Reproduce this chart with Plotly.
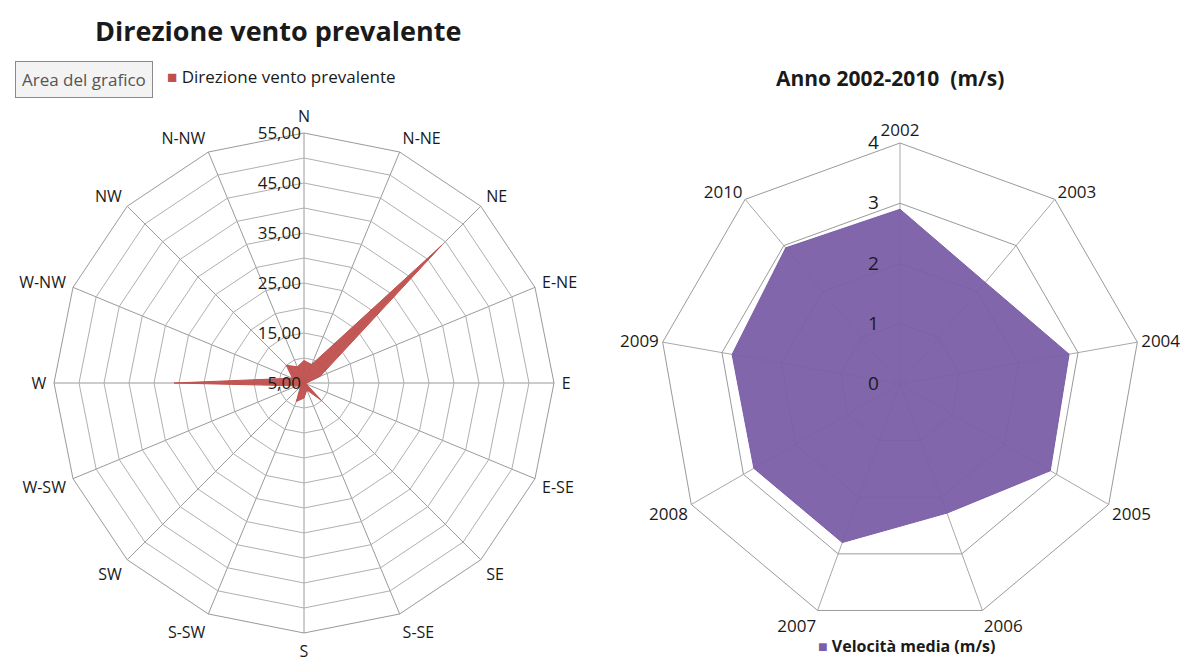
import plotly.graph_objects as go

# ---- Left chart data: prevailing wind direction ----
directions = ["N", "N-NE", "NE", "E-NE", "E", "E-SE", "SE", "S-SE",
              "S", "S-SW", "SW", "W-SW", "W", "W-NW", "NW", "N-NW"]
wind_values = [9.5, 9.0, 44.0, 8.5, 5.5, 5.5, 10.0, 6.5,
               8.0, 9.0, 6.0, 6.5, 31.0, 7.5, 10.0, 8.5]
wind_ticks = [5, 10, 15, 20, 25, 30, 35, 40, 45, 50, 55]
wind_ticktext = ["5,00", "", "15,00", "", "25,00", "", "35,00", "", "45,00", "", "55,00"]

# ---- Right chart data: mean speed per year ----
years = ["2002", "2003", "2004", "2005", "2006", "2007", "2008", "2009", "2010"]
speed_values = [2.9, 2.2, 2.85, 2.88, 2.28, 2.8, 2.8, 2.83, 2.95]
speed_ticks = [0, 1, 2, 3, 4]

FONT = "Open Sans"
GRID = "#9a9a9a"
TXT = "#1a1a1a"
RED = "#c0504d"
PURPLE = "#7b5ea7"

W, H = 1193, 661

fig = go.Figure()

fig.add_trace(go.Scatterpolar(
    r=wind_values + wind_values[:1], theta=directions + directions[:1],
    mode="lines", fill="toself",
    fillcolor="rgba(192,80,77,0.95)", line=dict(color=RED, width=1),
    name="Direzione vento prevalente", subplot="polar", showlegend=False,
))

fig.add_trace(go.Scatterpolar(
    r=speed_values + speed_values[:1], theta=years + years[:1],
    mode="lines", fill="toself",
    fillcolor="rgba(123,94,167,0.95)", line=dict(color=PURPLE, width=1),
    name="Velocità media (m/s)", subplot="polar2", showlegend=False,
))

fig.update_layout(
    width=W, height=H,
    margin=dict(l=0, r=0, t=0, b=0),
    paper_bgcolor="white",
    showlegend=False,
    font=dict(family=FONT, color=TXT),
    polar=dict(
        domain=dict(x=[54/W, 554/W], y=[28/H, 528/H]),
        gridshape="linear", bgcolor="white",
        angularaxis=dict(direction="clockwise", rotation=90, linecolor=GRID,
                         gridcolor=GRID, tickfont=dict(size=16, color=TXT),
                         ticks="outside", ticklen=4, tickcolor="rgba(0,0,0,0)",
                         categoryorder="array", categoryarray=directions),
        radialaxis=dict(range=[5, 55], tickvals=wind_ticks, ticktext=wind_ticktext,
                        angle=90, tickangle=90, gridcolor="#b0b0b0", showline=False,
                        ticks="", tickfont=dict(size=17, color=TXT),
                        side="counterclockwise"),
    ),
    polar2=dict(
        domain=dict(x=[659/W, 1141/W], y=[36/H, 518/H]),
        gridshape="linear", bgcolor="white",
        angularaxis=dict(direction="clockwise", rotation=90, linecolor=GRID,
                         gridcolor="#a8a8a8", tickfont=dict(size=17, color=TXT),
                         ticks="",
                         categoryorder="array", categoryarray=years),
        radialaxis=dict(range=[0, 4], tickvals=speed_ticks,
                        angle=90, tickangle=90, gridcolor=GRID, showline=False,
                        ticks="outside", ticklen=14, tickcolor="rgba(0,0,0,0)",
                        tickfont=dict(size=19, color=TXT),
                        side="counterclockwise"),
    ),
    annotations=[
        dict(text="<b>Direzione vento prevalente</b>", x=278/W, y=1-30/H,
             xref="paper", yref="paper", xanchor="center", yanchor="middle",
             showarrow=False, font=dict(size=27, color=TXT)),
        dict(text="<b>Anno 2002-2010  (m/s)</b>", x=890/W, y=1-78/H,
             xref="paper", yref="paper", xanchor="center", yanchor="middle",
             showarrow=False, font=dict(size=21, color=TXT)),
        dict(text="Area del grafico", x=84/W, y=1-80/H,
             xref="paper", yref="paper", xanchor="center", yanchor="middle",
             showarrow=False, font=dict(size=17, color="#555555"), bgcolor="#f3f3f3",
             bordercolor="#8a8a8a", borderwidth=1, borderpad=6),
        # legends
        dict(text="<span style='color:%s'>■</span> Direzione vento prevalente" % RED,
             x=165/W, y=1-76/H, xref="paper", yref="paper",
             xanchor="left", yanchor="middle", showarrow=False,
             font=dict(size=17, color=TXT)),
        dict(text="<span style='color:%s'>■</span> <b>Velocità media (m/s)</b>" % PURPLE,
             x=816/W, y=2/H, xref="paper", yref="paper",
             xanchor="left", yanchor="bottom", showarrow=False,
             font=dict(size=16, color=TXT)),
    ],
)

fig.write_html("out.html")
